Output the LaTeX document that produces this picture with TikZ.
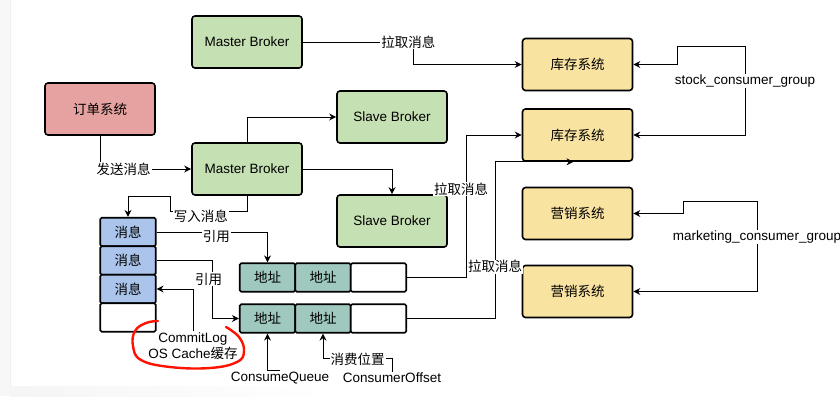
\documentclass[tikz,border=0pt]{standalone}
\usepackage{fontspec}
\setmainfont{Liberation Sans}
\newfontfamily\cjk{Noto Sans CJK SC}
\newcommand{\zh}[1]{{\cjk #1}}
\usetikzlibrary{
  arrows.meta,
  calc
}

\definecolor{brokergreen}{HTML}{C5E0B2}
\definecolor{ordered}{HTML}{E6A2A0}
\definecolor{consumeryellow}{HTML}{F9E3A1}
\definecolor{msgblue}{HTML}{AAC4EB}
\definecolor{addrteal}{HTML}{9FC8BF}

\begin{document}
\begin{tikzpicture}[
  x=1pt,
  y=-1pt,
  >={Stealth[length=7pt,width=7pt]},
  font=\fontsize{13.5}{16}\selectfont,
  box/.style={draw, line width=1.6pt, rounded corners=3pt,
              minimum width=110pt, minimum height=52pt, inner sep=0pt},
  broker/.style={box, fill=brokergreen},
  producer/.style={box, fill=ordered},
  consumer/.style={box, fill=consumeryellow},
  cell/.style={draw, line width=1.6pt, rounded corners=1.5pt,
               minimum width=55.5pt, minimum height=28.5pt, inner sep=0pt},
  msgcell/.style={cell, fill=msgblue},
  addrcell/.style={cell, fill=addrteal},
  link/.style={line width=0.9pt, ->},
  lbl/.style={fill=white, inner sep=1pt},
  every node/.style={inner sep=1pt}
]

  % Page size and the grey screenshot edges.
  \useasboundingbox (0,0) rectangle (840,396);
  \fill[black!3] (0,0) rectangle (10,396);
  \draw[black!6, line width=1pt] (10,0) -- (10,386);
  \shade[left color=black!4, right color=white] (10,386) rectangle (330,396);

  % Producer and brokers.
  \node[producer] (ord) at (100,109) {\zh{订单系统}};
  \node[broker] (mb1) at (247,42) {Master Broker};
  \node[broker] (mb2) at (247,169) {Master Broker};
  \node[broker] (sb1) at (392,117) {Slave Broker};
  \node[broker] (sb2) at (392,221) {Slave Broker};

  % Consumer systems.
  \node[consumer] (kc1) at (577.5,64.5) {\zh{库存系统}};
  \node[consumer] (kc2) at (577.5,135) {\zh{库存系统}};
  \node[consumer] (yx1) at (577.5,213.5) {\zh{营销系统}};
  \node[consumer] (yx2) at (577.5,291.5) {\zh{营销系统}};

  % CommitLog cells.
  \node[msgcell] (m1) at (128,232) {\zh{消息}};
  \node[msgcell] (m2) at (128,260.5) {\zh{消息}};
  \node[msgcell] (m3) at (128,289) {\zh{消息}};
  \node[cell, fill=white] (m4) at (128,317.5) {};

  % ConsumeQueue cells.
  \node[addrcell] (cq11) at (267.5,277.5) {\zh{地址}};
  \node[addrcell] (cq12) at (323,277.5) {\zh{地址}};
  \node[cell, fill=white] (cq13) at (378.5,277.5) {};
  \node[addrcell] (cq21) at (267.5,318.5) {\zh{地址}};
  \node[addrcell] (cq22) at (323,318.5) {\zh{地址}};
  \node[cell, fill=white] (cq23) at (378.5,318.5) {};

  % Free labels.
  \node[align=center] (cl) at (193,346) {CommitLog\\OS Cache\zh{缓存}};
  \node (cqlbl) at (280,378) {ConsumeQueue};
  \node (colbl) at (392,378) {ConsumerOffset};
  \node (sg) at (745,81) {stock\_consumer\_group};
  \node (mg) at (757,237) {marketing\_consumer\_group};

  % Sending and replication.
  \draw[link] (ord.south) |- node[lbl,pos=0.63] {\zh{发送消息}} (mb2.west);
  \draw[link] (mb2.north) |- (sb1.west);
  \draw[link] (mb2.east) -| (sb2.north);
  \draw[link] (mb2.south) -- ++(0,16)
    -- node[lbl,pos=0.6,yshift=-4pt] {\zh{写入消息}} ++(-77,0)
    -- ++(0,-15) -| (m1.north);

  % References from the CommitLog into the ConsumeQueue.
  \draw[link] (m1.east) -| node[lbl,pos=0.27,yshift=-4pt] {\zh{引用}} (cq11.north);
  \draw[link] (m2.east) -- ++(56,0)
    |- node[lbl,pos=0.16,xshift=-4pt] {\zh{引用}} (cq21.west);
  \draw[link] (cl.north) |- (m3.east);
  \draw[link] (cqlbl.north) -| (cq21.south);
  \draw[link] (colbl.north) -- ++(0,-13)
    -| node[lbl,pos=0.25] {\zh{消费位置}} (cq22.south);

  % Pulling messages.
  \draw[link] (mb1.east) -- node[lbl,pos=0.95] {\zh{拉取消息}} ++(111,0)
    |- (kc1.west);
  \draw[link] (cq13.east) -- ++(59,0)
    |- node[lbl,pos=0.31,xshift=-5pt] {\zh{拉取消息}} (kc2.west);
  \draw[link] (cq23.east) -- ++(88,0)
    |- node[lbl,pos=0.165] {\zh{拉取消息}} ([xshift=-4pt]kc2.south);

  % Consumer groups.
  \draw[link] (sg.north) |- ([shift={(44,-18)}]kc1.east) |- (kc1.east);
  \draw[link] (sg.south) |- (kc2.east);
  \draw[link] (mg.north) |- ([shift={(50,-12)}]yx1.east) |- (yx1.east);
  \draw[link] (mg.south) |- (yx2.east);

  % Hand-drawn red mark round the CommitLog label.
  \draw[red!85!orange, line width=2.4pt, line cap=round] plot[smooth, tension=0.7]
    coordinates {(226,327) (239,337) (244,351) (237,362) (210,368)
                 (170,367) (141,360) (133,346) (135,331) (146,323) (158,321)};

\end{tikzpicture}
\end{document}
